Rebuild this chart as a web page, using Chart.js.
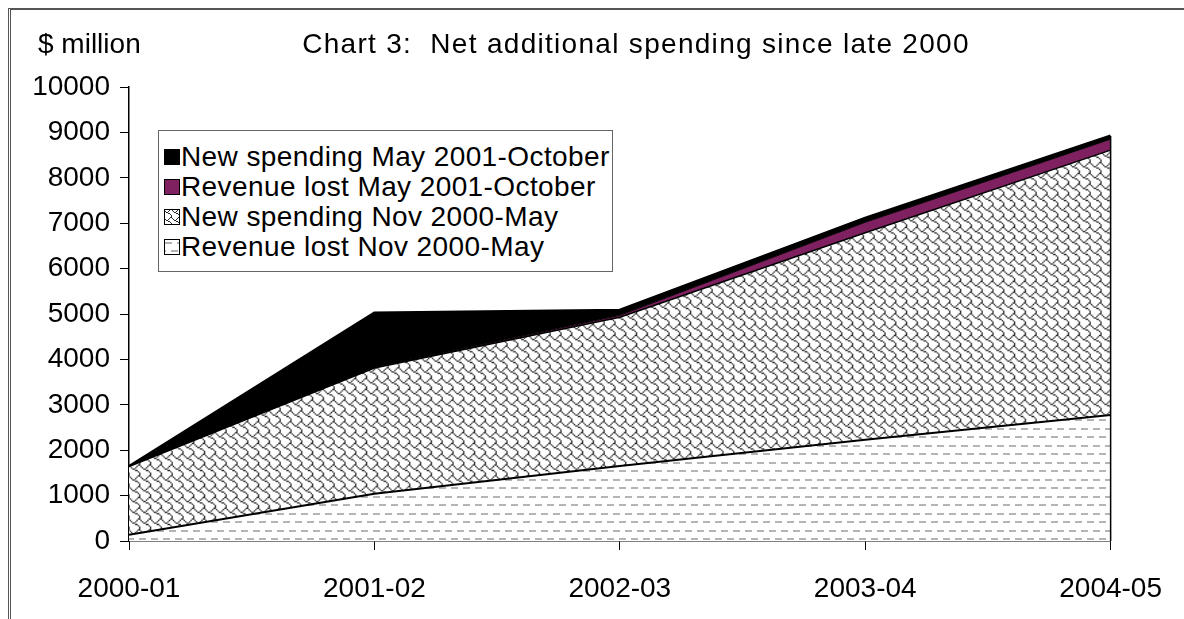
<!DOCTYPE html>
<html>
<head>
<meta charset="utf-8">
<script src="https://cdn.jsdelivr.net/npm/chart.js@4.4.1/dist/chart.umd.min.js"></script>
<style>
  html, body { margin: 0; padding: 0; background: #fff; }
  #wrap { position: relative; width: 1184px; height: 619px; overflow: hidden; font-family: "Liberation Sans", Arial, sans-serif; }
  #frame { position: absolute; left: 8px; top: 8px; width: 1200px; height: 700px; border-left: 3px double #555; border-top: 2px solid #555; }
  #c { position: absolute; left: 0; top: 0; }
  .txt { position: absolute; font-size: 28px; color: #000; white-space: pre; line-height: 1; }
  #unit { left: 38px; top: 30px; }
  #title { left: 0; width: 1272px; text-align: center; top: 30px; letter-spacing: 1.3px; }
  #legend { position: absolute; left: 158px; top: 130px; width: 453px; height: 140px; border: 1.5px solid #666; background: #fff; }
  .row { position: absolute; left: 0; height: 30px; font-size: 28px; line-height: 30px; white-space: pre; letter-spacing: 0.4px; }
  .row canvas { position: absolute; left: 5px; top: 7px; }
  .row span { position: absolute; left: 22px; top: 0; }
</style>
</head>
<body>
<div id="wrap">
  <div id="frame"></div>
  <canvas id="c" width="1184" height="619"></canvas>
  <div class="txt" id="unit">$ million</div>
  <div class="txt" id="title">Chart 3:  Net additional spending since late 2000</div>
  <div id="legend"></div>
</div>
<script>
// ---- data ----
const categories = ["2000-01", "2001-02", "2002-03", "2003-04", "2004-05"];
const revenueLostNov = [140, 1040, 1650, 2230, 2775];
const newSpendingNov = [1500, 2770, 3280, 4560, 5835];
const revenueLostMay = [0, 10, 40, 230, 240];
const newSpendingMay = [0, 1200, 115, 90, 70];
const seriesNames = ["Revenue lost Nov 2000-May", "New spending Nov 2000-May", "Revenue lost May 2001-October", "New spending May 2001-October"];
const yTicks = [0, 1000, 2000, 3000, 4000, 5000, 6000, 7000, 8000, 9000, 10000];

// ---- patterns ----
function makeDashTile() {
  const t = document.createElement('canvas');
  t.width = 12; t.height = 17;
  const g = t.getContext('2d');
  g.fillStyle = '#fff'; g.fillRect(0, 0, 12, 17);
  g.fillStyle = '#b4b4b4';
  g.fillRect(1, 3, 7, 2);
  g.fillRect(7, 11, 5, 2);
  g.fillRect(0, 11, 2, 2);
  return t;
}
function makeShingleTile() {
  const rows = [0x03, 0x84, 0x48, 0x30, 0x0C, 0x02, 0x01, 0x01];
  const t = document.createElement('canvas');
  t.width = 8; t.height = 8;
  const g = t.getContext('2d');
  g.fillStyle = '#fff'; g.fillRect(0, 0, 8, 8);
  g.fillStyle = '#2a2a2a';
  rows.forEach((r, y) => {
    for (let x = 0; x < 8; x++) if (r & (0x80 >> x)) g.fillRect(x, y, 1, 1);
  });
  return t;
}
const ctx = document.getElementById('c').getContext('2d');
const dashTile = makeDashTile();
const shingleTile = makeShingleTile();
const dashPattern = ctx.createPattern(dashTile, 'repeat');
const shinglePattern = ctx.createPattern(shingleTile, 'repeat');
try { shinglePattern.setTransform(new DOMMatrix().scale(1.35)); } catch (e) {}
const purple = '#7F2060';

// ---- legend (HTML, top series first) ----
const legendItems = [
  { name: seriesNames[3], fill: '#000' },
  { name: seriesNames[2], fill: purple },
  { name: seriesNames[1], tile: shingleTile },
  { name: seriesNames[0], tile: dashTile }
];
const legendEl = document.getElementById('legend');
legendItems.forEach((it, i) => {
  const row = document.createElement('div');
  row.className = 'row';
  row.style.top = (11 + i * 30) + 'px';
  const sw = document.createElement('canvas');
  sw.width = 16; sw.height = 16;
  const g = sw.getContext('2d');
  if (it.fill) { g.fillStyle = it.fill; g.fillRect(0, 0, 16, 16); }
  else { g.fillStyle = g.createPattern(it.tile, 'repeat'); g.fillRect(0, 0, 16, 16); }
  g.strokeStyle = '#000'; g.lineWidth = 1; g.strokeRect(0.5, 0.5, 15, 15);
  const sp = document.createElement('span');
  sp.textContent = it.name;
  row.appendChild(sw); row.appendChild(sp);
  legendEl.appendChild(row);
});

// right edge outline of the stacked area
const edgePlugin = {
  id: 'edge',
  afterDatasetsDraw(chart) {
    const meta = chart.getDatasetMeta(chart.data.datasets.length - 1);
    const pt = meta.data[meta.data.length - 1];
    const c = chart.ctx;
    c.save();
    c.strokeStyle = '#000'; c.lineWidth = 1.5;
    c.beginPath(); c.moveTo(pt.x, pt.y); c.lineTo(pt.x, chart.chartArea.bottom); c.stroke();
    c.restore();
  }
};

new Chart(ctx, {
  type: 'line',
  data: {
    labels: categories,
    datasets: [
      { label: seriesNames[0], data: revenueLostNov, fill: 'origin', backgroundColor: dashPattern, borderColor: '#000', borderWidth: 2 },
      { label: seriesNames[1], data: newSpendingNov, fill: '-1', backgroundColor: shinglePattern, borderColor: '#000', borderWidth: 1.5 },
      { label: seriesNames[2], data: revenueLostMay, fill: '-1', backgroundColor: purple, borderColor: '#000', borderWidth: 1 },
      { label: seriesNames[3], data: newSpendingMay, fill: '-1', backgroundColor: '#000', borderColor: '#000', borderWidth: 3 }
    ]
  },
  options: {
    responsive: false,
    animation: false,
    devicePixelRatio: 1,
    layout: { padding: { left: 0, top: 87, right: 73, bottom: 0 } },
    elements: { point: { radius: 0 }, line: { tension: 0 } },
    plugins: { legend: { display: false }, tooltip: { enabled: false }, title: { display: false } },
    scales: {
      x: {
        type: 'category',
        offset: false,
        grid: { display: true, drawOnChartArea: false, drawTicks: true, tickLength: 9, color: '#000', lineWidth: 1 },
        border: { display: true, color: '#000', width: 1.5 },
        ticks: { color: '#000', padding: 22, maxRotation: 0, autoSkip: false, font: { family: "'Liberation Sans', Arial", size: 28 } },
        afterFit(s) { s.height = 78; }
      },
      y: {
        stacked: true,
        min: 0, max: 10000,
        afterBuildTicks(s) { s.ticks = yTicks.map(v => ({ value: v })); },
        grid: { display: true, drawOnChartArea: false, drawTicks: true, tickLength: 9, color: '#000', lineWidth: 1 },
        border: { display: true, color: '#000', width: 1.5 },
        ticks: { color: '#000', padding: 10, font: { family: "'Liberation Sans', Arial", size: 28 }, callback: v => String(v) },
        afterFit(s) { s.width = 129; }
      }
    }
  },
  plugins: [edgePlugin]
});
</script>
</body>
</html>
